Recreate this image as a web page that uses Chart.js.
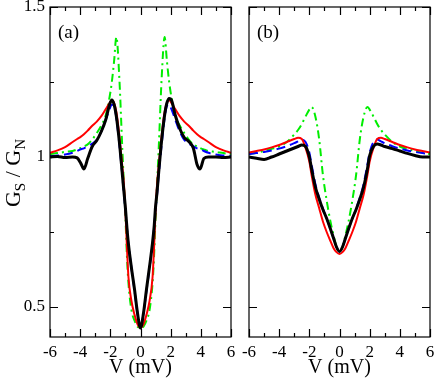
<!DOCTYPE html>
<html>
<head>
<meta charset="utf-8">
<script src="https://cdn.jsdelivr.net/npm/chart.js@4.4.0/dist/chart.umd.min.js"></script>
<style>
  body { margin: 0; background: #fff; }
  #wrap { position: relative; width: 436px; height: 382px; }
  canvas { position: absolute; top: 0; }
  #panelA { left: 0; }
  #panelB { left: 236px; }
</style>
</head>
<body>
<div id="wrap">
  <canvas id="panelA" width="236" height="382"></canvas>
  <canvas id="panelB" width="200" height="382"></canvas>
</div>
<script>
// bias voltage grid, panel (a)
const vA = [-6, -5.5, -5, -4.5, -4.2, -3.95, -3.75, -3.5, -3.2, -2.9, -2.6, -2.3, -2.05, -1.9, -1.75, -1.6, -1.4, -1.2, -1.1, -1, -0.9, -0.8, -0.6, -0.4, -0.2, 0,
            0.2, 0.4, 0.6, 0.8, 0.9, 1, 1.1, 1.2, 1.4, 1.6, 1.75, 1.9, 2.05, 2.3, 2.6, 2.9, 3.2, 3.5, 3.75, 3.95, 4.2, 4.5, 5, 5.5, 6];
const expA = [1.0, 1.002, 0.998, 1.0, 0.997, 0.978, 0.96, 0.995, 1.035, 1.055, 1.085, 1.125, 1.175, 1.19, 1.175, 1.135, 1.05, 0.94, 0.885, 0.83, 0.765, 0.71, 0.63, 0.56, 0.48, 0.43,
              0.48, 0.56, 0.635, 0.715, 0.765, 0.835, 0.885, 0.945, 1.055, 1.14, 1.18, 1.195, 1.19, 1.14, 1.095, 1.065, 1.052, 1.03, 0.975, 0.96, 0.995, 1.0, 1.0, 0.998, 1.0];
const redA = [1.014, 1.022, 1.033, 1.05, 1.06, 1.068, 1.076, 1.088, 1.104, 1.118, 1.136, 1.16, 1.18, 1.19, 1.18, 1.15, 1.07, 0.965, 0.91, 0.82, 0.70, 0.6, 0.52, 0.475, 0.443, 0.43,
              0.443, 0.475, 0.52, 0.6, 0.70, 0.82, 0.91, 0.965, 1.07, 1.15, 1.18, 1.19, 1.18, 1.16, 1.136, 1.118, 1.104, 1.088, 1.076, 1.068, 1.06, 1.05, 1.033, 1.022, 1.014];
const blueA = [1.003, 1.005, 1.008, 1.014, 1.02, 1.026, 1.029, 1.036, 1.045, 1.057, 1.085, 1.125, 1.16, 1.175, 1.17, 1.13, 1.04, 0.935, 0.875, 0.825, 0.765, 0.71, 0.63, 0.555, 0.48, 0.43,
               0.48, 0.555, 0.63, 0.71, 0.765, 0.825, 0.875, 0.935, 1.04, 1.13, 1.17, 1.175, 1.16, 1.125, 1.085, 1.057, 1.045, 1.036, 1.029, 1.026, 1.02, 1.014, 1.008, 1.005, 1.003];
const greenA = [1.01, 1.013, 1.017, 1.02, 1.025, 1.03, 1.035, 1.042, 1.058, 1.08, 1.105, 1.14, 1.20, 1.25, 1.32, 1.40, 1.26, 1.02, 0.91, 0.80, 0.67, 0.58, 0.49, 0.455, 0.435, 0.43,
                0.435, 0.455, 0.49, 0.58, 0.67, 0.80, 0.91, 1.02, 1.26, 1.40, 1.32, 1.25, 1.20, 1.14, 1.105, 1.08, 1.058, 1.042, 1.035, 1.03, 1.025, 1.02, 1.017, 1.013, 1.01];

// bias voltage grid, panel (b)
const vB = [-6, -5.5, -5, -4.5, -4, -3.5, -3, -2.75, -2.5, -2.25, -2, -1.85, -1.6, -1.35, -1.1, -0.85, -0.6, -0.4, -0.2, 0,
            0.2, 0.4, 0.6, 0.85, 1.1, 1.35, 1.6, 1.85, 2, 2.25, 2.5, 2.75, 3, 3.5, 4, 4.5, 5, 5.5, 6];
const expB = [1.0, 0.996, 0.992, 1.0, 1.01, 1.02, 1.03, 1.035, 1.04, 1.035, 1.0, 0.96, 0.9, 0.86, 0.825, 0.795, 0.76, 0.73, 0.70, 0.685,
              0.70, 0.73, 0.76, 0.795, 0.825, 0.86, 0.9, 0.96, 1.005, 1.035, 1.043, 1.04, 1.035, 1.028, 1.02, 1.012, 1.005, 1.0, 1.0];
const redB = [1.015, 1.02, 1.025, 1.032, 1.04, 1.05, 1.06, 1.064, 1.06, 1.03, 0.985, 0.94, 0.875, 0.83, 0.785, 0.75, 0.72, 0.697, 0.683, 0.677,
              0.683, 0.697, 0.72, 0.75, 0.785, 0.83, 0.875, 0.94, 0.985, 1.03, 1.06, 1.064, 1.06, 1.05, 1.04, 1.032, 1.025, 1.02, 1.015];
const blueB = [1.01, 1.013, 1.017, 1.022, 1.028, 1.036, 1.046, 1.052, 1.058, 1.05, 1.015, 0.975, 0.91, 0.865, 0.828, 0.795, 0.76, 0.73, 0.70, 0.685,
               0.70, 0.73, 0.76, 0.795, 0.828, 0.865, 0.91, 0.975, 1.015, 1.05, 1.058, 1.052, 1.046, 1.036, 1.028, 1.022, 1.017, 1.013, 1.01];
const greenB = [1.01, 1.014, 1.02, 1.027, 1.035, 1.05, 1.075, 1.09, 1.11, 1.135, 1.158, 1.167, 1.135, 1.06, 0.94, 0.855, 0.785, 0.74, 0.70, 0.684,
                0.70, 0.74, 0.785, 0.855, 0.94, 1.06, 1.135, 1.167, 1.158, 1.135, 1.11, 1.09, 1.075, 1.05, 1.035, 1.027, 1.02, 1.014, 1.01];

const xTicks = [-6, -4, -2, 0, 2, 4, 6];
const yTicks = [0.5, 1, 1.5];
const yMinor = [0.75, 1.25];

const SERIF = '"Liberation Serif", "Times New Roman", serif';

function pts(xs, ys) {
  return xs.map((v, i) => ({ x: v, y: ys[i] }));
}

function series(xs, exp, red, blue, green) {
  // first dataset is drawn on top
  return [
    { data: pts(xs, exp), borderColor: '#000', borderWidth: 3 },
    { data: pts(xs, red), borderColor: '#ff0000', borderWidth: 2 },
    { data: pts(xs, blue), borderColor: '#0000ff', borderWidth: 2, borderDash: [9, 5] },
    { data: pts(xs, green), borderColor: '#00ee00', borderWidth: 2, borderDash: [8, 4, 2, 4] }
  ];
}

// frame, inward ticks on all four sides, panel tag and the y title
const framePlugin = {
  id: 'frame',
  afterDatasetsDraw(chart, args, opts) {
    const { ctx, chartArea: a } = chart;
    const x = chart.scales.x, y = chart.scales.y;
    ctx.save();
    ctx.strokeStyle = '#000';
    ctx.lineWidth = 1.2;
    ctx.strokeRect(a.left, a.top, a.right - a.left, a.bottom - a.top);
    ctx.beginPath();
    for (let v = -6; v <= 6; v++) {
      const px = Math.round(x.getPixelForValue(v)) + 0.5;
      const len = v % 2 === 0 ? 8 : 4;
      ctx.moveTo(px, a.bottom); ctx.lineTo(px, a.bottom - len);
      ctx.moveTo(px, a.top); ctx.lineTo(px, a.top + len);
    }
    yTicks.concat(yMinor).forEach(v => {
      const py = Math.round(y.getPixelForValue(v)) + 0.5;
      const len = yTicks.includes(v) ? 8 : 4;
      ctx.moveTo(a.left, py); ctx.lineTo(a.left + len, py);
      ctx.moveTo(a.right, py); ctx.lineTo(a.right - len, py);
    });
    ctx.stroke();

    ctx.fillStyle = '#000';
    ctx.font = '19px ' + SERIF;
    ctx.textBaseline = 'alphabetic';
    ctx.fillText(opts.tag, a.left + 8, a.top + 31);

    if (opts.yTitle) {
      ctx.translate(20, 173);
      ctx.rotate(-Math.PI / 2);
      const parts = [['G', 22, 0], ['S', 15, 5], [' / G', 22, 0], ['N', 15, 5]];
      let w = 0;
      parts.forEach(p => { ctx.font = p[1] + 'px ' + SERIF; w += ctx.measureText(p[0]).width; });
      let cx = -w / 2;
      parts.forEach(p => {
        ctx.font = p[1] + 'px ' + SERIF;
        ctx.fillText(p[0], cx, p[2]);
        cx += ctx.measureText(p[0]).width;
      });
    }
    ctx.restore();
  }
};

function makeChart(id, xs, exp, red, blue, green, tag, showY, yWidth, padRight) {
  return new Chart(document.getElementById(id).getContext('2d'), {
    type: 'line',
    data: { datasets: series(xs, exp, red, blue, green) },
    options: {
      responsive: false,
      animation: false,
      events: [],
      layout: { padding: { top: 7, left: 0, right: padRight, bottom: 0 } },
      elements: {
        point: { radius: 0 },
        line: { cubicInterpolationMode: 'monotone', fill: false }
      },
      plugins: {
        legend: { display: false },
        tooltip: { enabled: false },
        frame: { tag: tag, yTitle: showY }
      },
      scales: {
        x: {
          type: 'linear',
          min: -6,
          max: 6,
          afterBuildTicks: s => { s.ticks = xTicks.map(v => ({ value: v })); },
          afterFit: s => { s.height = 45; s.paddingLeft = 0; s.paddingRight = 0; },
          grid: { display: true, drawOnChartArea: false, drawTicks: false },
          border: { display: false },
          ticks: {
            color: '#000',
            padding: 5,
            maxRotation: 0,
            font: { family: SERIF, size: 17 },
            callback: v => String(v)
          },
          title: {
            display: true,
            text: 'V (mV)',
            color: '#000',
            font: { family: SERIF, size: 20 },
            padding: { top: 0, bottom: 2 }
          }
        },
        y: {
          type: 'linear',
          min: 0.4,
          max: 1.5,
          afterBuildTicks: s => { s.ticks = yTicks.map(v => ({ value: v })); },
          afterFit: s => { s.width = yWidth; s.paddingTop = 0; s.paddingBottom = 0; },
          grid: { display: true, drawOnChartArea: false, drawTicks: false },
          border: { display: false },
          ticks: {
            display: showY,
            color: '#000',
            padding: 5,
            font: { family: SERIF, size: 17 },
            callback: v => String(v)
          }
        }
      }
    },
    plugins: [framePlugin]
  });
}

makeChart('panelA', vA, expA, redA, blueA, greenA, '(a)', true, 50, 5);
makeChart('panelB', vB, expB, redB, blueB, greenB, '(b)', false, 13, 6);
</script>
</body>
</html>
